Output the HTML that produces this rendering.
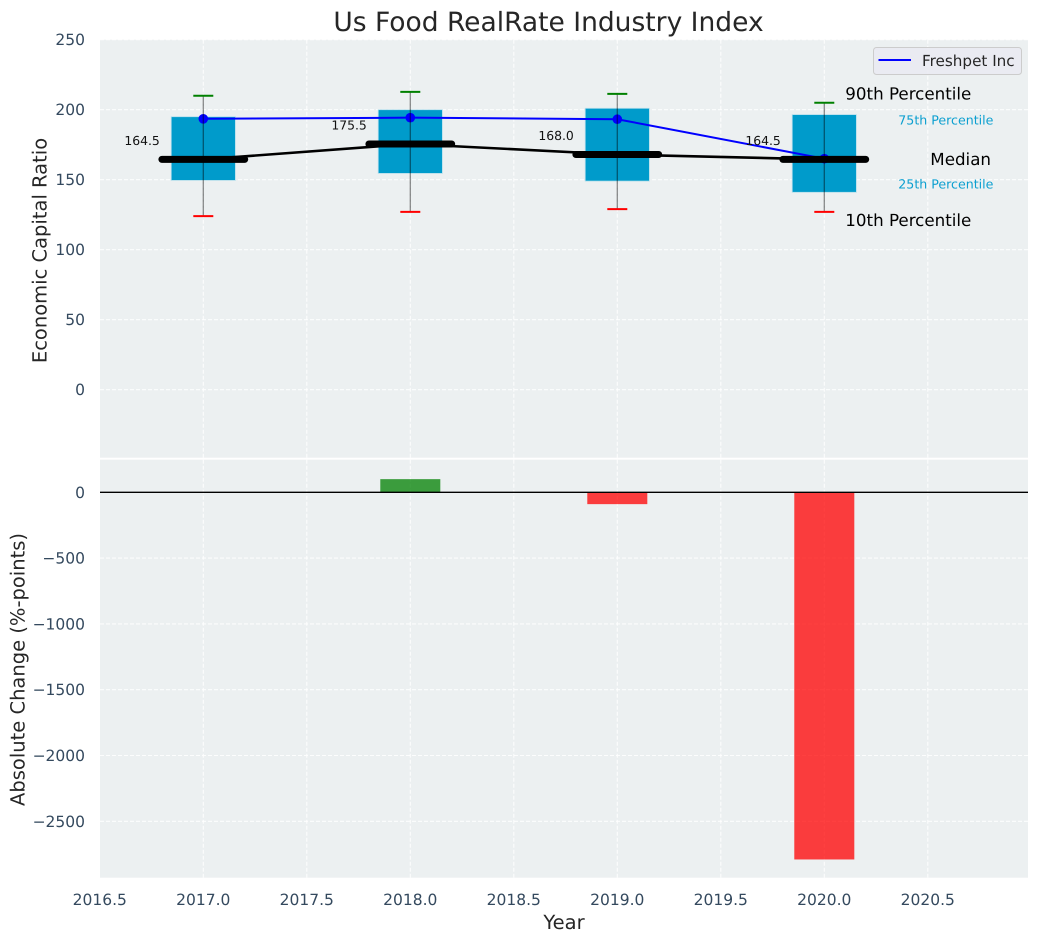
<!DOCTYPE html>
<html>
<head>
<meta charset="utf-8">
<style>
html,body{margin:0;padding:0;background:#fff;width:1039px;height:942px;overflow:hidden}
svg{display:block;font-family:"DejaVu Sans","Liberation Sans",sans-serif;text-rendering:geometricPrecision}
</style>
</head>
<body>
<svg id="chart" xmlns="http://www.w3.org/2000/svg" width="1039" height="942" viewBox="0 0 1039 942">
  <rect x="100" y="39.7" width="928" height="418" fill="#ecf0f1"/>
  <rect x="100" y="459.7" width="928" height="418" fill="#ecf0f1"/>
  <text x="548.5" y="31" text-anchor="middle" font-size="26.5" fill="#262626">Us Food RealRate Industry Index</text>
  <text transform="translate(46.5,250.5) rotate(-90)" text-anchor="middle" font-size="19.5" fill="#262626">Economic Capital Ratio</text>
  <text transform="translate(24.5,669.5) rotate(-90)" text-anchor="middle" font-size="19.5" fill="#262626">Absolute Change (%-points)</text>
  <text x="564" y="929" text-anchor="middle" font-size="19.5" fill="#262626">Year</text>
  <g id="grid"></g>
  <g id="ticks"></g>
  <g id="boxes"></g>
  <g id="company"></g>
  <g id="medians"></g>
  <g id="whiskers"></g>
  <g id="bars"></g>
  <line id="zero-line" x1="100" x2="1028" stroke="#000" stroke-width="1.3"/>
  <g id="labels"></g>
  <g id="keys"></g>
  <g>
    <rect x="873.5" y="47.5" width="148" height="27" rx="3" fill="#eaeaf2" fill-opacity="0.9" stroke="#cccccc"/>
    <line x1="878.5" x2="911" y1="60" y2="60" stroke="#0000ff" stroke-width="2"/>
    <text x="922" y="66" font-size="15.2" fill="#262626">Freshpet Inc</text>
  </g>
</svg>
<script>
var years = [2017, 2018, 2019, 2020];
var p10 = [124, 127, 129, 127];
var p25 = [149.5, 154.5, 149, 141];
var medianValues = [164.5, 175.5, 168.0, 164.5];
var p75 = [195, 200, 201, 196.5];
var p90 = [210, 212.7, 211.3, 205];
var freshpet = [193.5, 194.3, 193.2, 165];
var changes = [0, 100, -90, -2790];
var xTickValues = [2016.5, 2017, 2017.5, 2018, 2018.5, 2019, 2019.5, 2020, 2020.5];
var topTickValues = [0, 50, 100, 150, 200, 250];
var bottomTickValues = [0, -500, -1000, -1500, -2000, -2500];

var NS = 'http://www.w3.org/2000/svg';
function xScale(v) { return 99.8 + (v - 2016.5) * 207; }
function xLen(v) { return v * 207; }
function yTop(v) { return 389.7 - v * 1.4; }
function yBottom(v) { return 492.3 - v * 0.1316; }
function make(tag, parentId, attrs, content) {
  var el = document.createElementNS(NS, tag);
  for (var k in attrs) { el.setAttribute(k, attrs[k]); }
  if (content !== undefined) { el.textContent = content; }
  document.getElementById(parentId).appendChild(el);
  return el;
}
function minusFmt(v) { return String(v).replace('-', '\u2212'); }

var gridStyle = {stroke: '#ffffff', 'stroke-width': 1.1, 'stroke-opacity': 0.85, 'stroke-dasharray': '4 2', fill: 'none'};
function gridAttrs(x1, x2, y1, y2) {
  return Object.assign({x1: x1, x2: x2, y1: y1, y2: y2}, gridStyle);
}

xTickValues.forEach(function (t) {
  var x = xScale(t);
  if (t > 2016.5) {
    var g1 = make('line', 'grid', gridAttrs(x, x, 39.7, 457.7));
    
    
    var g2 = make('line', 'grid', gridAttrs(x, x, 459.7, 877.7));
    
    
  }
  var lab = make('text', 'ticks', {x: x, y: 905, 'text-anchor': 'middle', 'font-size': 15.5, fill: '#34495e'}, t.toFixed(1));
  
  
});

topTickValues.forEach(function (t) {
  var y = yTop(t);
  var g = make('line', 'grid', gridAttrs(100, 1028, y, y));
  
  
  var lab = make('text', 'ticks', {x: 85, y: y + 5.5, 'text-anchor': 'end', 'font-size': 15.5, fill: '#34495e'}, String(t));
  
  
});

bottomTickValues.forEach(function (t) {
  var y = yBottom(t);
  var g = make('line', 'grid', gridAttrs(100, 1028, y, y));
  
  
  var lab = make('text', 'ticks', {x: 85, y: y + 5.5, 'text-anchor': 'end', 'font-size': 15.5, fill: '#34495e'}, minusFmt(t));
  
  
});

years.forEach(function (yr, i) {
  var box = make('rect', 'boxes', {
    x: xScale(yr) - xLen(0.155), width: xLen(0.31),
    y: yTop(p75[i]), height: yTop(p25[i]) - yTop(p75[i]),
    fill: '#009bcb', stroke: '#b5dfec', 'stroke-width': 0.8
  });
  
  

  var stem = make('line', 'whiskers', {
    x1: xScale(yr), x2: xScale(yr), y1: yTop(p90[i]), y2: yTop(p10[i]),
    stroke: '#000', 'stroke-opacity': 0.45, 'stroke-width': 1.3
  });
  
  

  var capHigh = make('line', 'whiskers', {
    x1: xScale(yr) - 10, x2: xScale(yr) + 10, y1: yTop(p90[i]), y2: yTop(p90[i]),
    stroke: '#008000', 'stroke-width': 2
  });
  
  

  var capLow = make('line', 'whiskers', {
    x1: xScale(yr) - 10, x2: xScale(yr) + 10, y1: yTop(p10[i]), y2: yTop(p10[i]),
    stroke: '#ff0000', 'stroke-width': 2
  });
  
  

  var medianBar = make('line', 'medians', {
    x1: xScale(yr) - xLen(0.2), x2: xScale(yr) + xLen(0.2), y1: yTop(medianValues[i]), y2: yTop(medianValues[i]),
    stroke: '#000', 'stroke-width': 7, 'stroke-linecap': 'round'
  });
  
  

  var medianText = make('text', 'labels', {
    x: xScale(yr) - 43.5, y: yTop(medianValues[i]) - 14.5, 'text-anchor': 'end', 'font-size': 12.4, fill: '#111'
  }, medianValues[i].toFixed(1));
  
  

  var marker = make('circle', 'company', {
    cx: xScale(yr), cy: yTop(freshpet[i]), r: 4.8, fill: '#0000ff'
  });
  
  

  if (changes[i] !== 0) {
    var top = Math.min(yBottom(changes[i]), yBottom(0));
    var bar = make('rect', 'bars', {
      x: xScale(yr) - xLen(0.145), width: xLen(0.29),
      y: top, height: Math.abs(yBottom(changes[i]) - yBottom(0)),
      fill: changes[i] > 0 ? '#008000' : '#ff0000', 'fill-opacity': 0.75
    });
    
    
  }
});

var companyLine = make('polyline', 'company', {
  points: years.map(function (yr, i) { return xScale(yr) + ',' + yTop(freshpet[i]); }).join(' '),
  fill: 'none', stroke: '#0000ff', 'stroke-width': 2
});



var medianLine = make('polyline', 'medians', {
  points: years.map(function (yr, i) { return xScale(yr) + ',' + yTop(medianValues[i]); }).join(' '),
  fill: 'none', stroke: '#000', 'stroke-width': 2.6
});



var last = years.length - 1;
var lastX = xScale(years[last]);

var key90 = make('text', 'keys', {x: lastX + 21, y: yTop(p90[last]) - 3, 'font-size': 16.7, fill: '#000'}, '90th Percentile');



var key75 = make('text', 'keys', {x: lastX + 74, y: yTop(p75[last]) + 10, 'font-size': 12.6, fill: '#0b9fd0'}, '75th Percentile');



var keyMedian = make('text', 'keys', {x: lastX + 106, y: yTop(medianValues[last]) + 5.5, 'font-size': 16.7, fill: '#000'}, 'Median');



var key25 = make('text', 'keys', {x: lastX + 74, y: yTop(p25[last]) - 4, 'font-size': 12.6, fill: '#0b9fd0'}, '25th Percentile');



var key10 = make('text', 'keys', {x: lastX + 21, y: yTop(p10[last]) + 14, 'font-size': 16.7, fill: '#000'}, '10th Percentile');



document.getElementById('zero-line').setAttribute('y1', yBottom(0));
document.getElementById('zero-line').setAttribute('y2', yBottom(0));
</script>
</body>
</html>
